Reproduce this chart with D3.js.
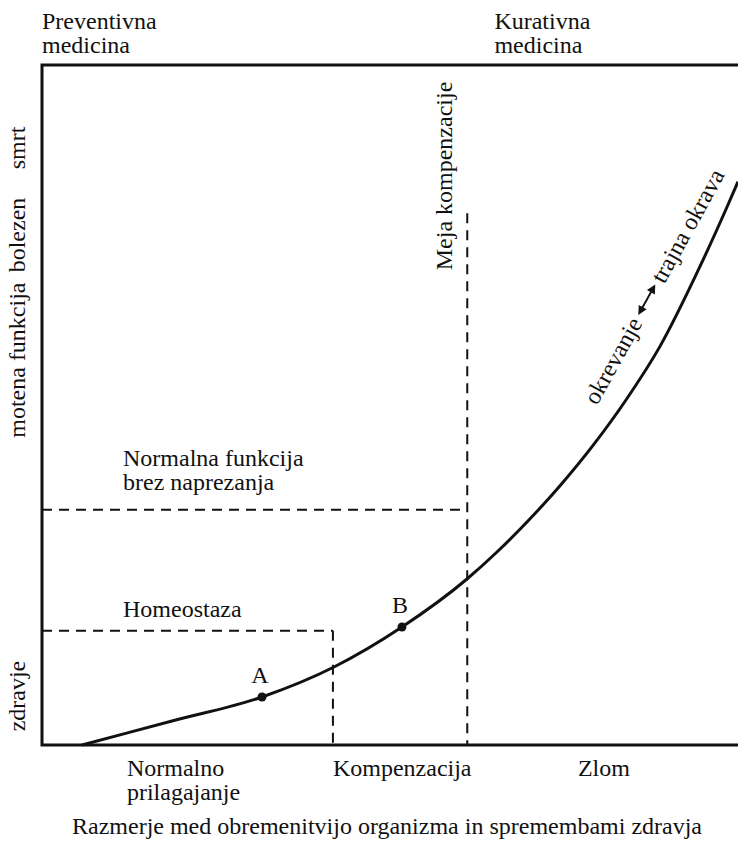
<!DOCTYPE html>
<html><head><meta charset="utf-8">
<script src="https://cdn.jsdelivr.net/npm/d3@7"></script>
<style>
html,body{margin:0;padding:0;background:#fff;}
text{font-family:"Liberation Serif","Times New Roman",serif;fill:#111;}
</style></head>
<body><svg id="c" width="738" height="841"></svg>
<script>
// ---- data (x = obremenitev 0..100, y = zdravje/stanje 0..100) ----
const curveX = [5.75, 18.68, 31.61, 41.95, 51.72, 61.06, 65.37, 69.68, 74.43, 79.17, 84.05, 88.79, 94.54, 98.42, 100];
const curveY = [0, 3.53, 7.06, 11.47, 17.35, 24.41, 28.38, 32.79, 38.13, 44.06, 50.96, 58.62, 70.38, 79.12, 82.84];
const pointNames = ["A", "B"];
const pointX = [31.61, 51.72];
const pointY = [7.06, 17.35];
const levelNames = ["Homeostaza", "Normalna funkcija|brez naprezanja"];
const levelY = [16.8, 34.6];
const levelXEnd = [41.8, 61.1];
const boundaryName = "Meja kompenzacije";
const boundaryX = 61.1;
const boundaryTop = 78.2;
const yTickLabels = ["zdravje", "motena funkcija", "bolezen", "smrt"];
const yTickPos = [7.2, 56.6, 75, 87.8];
const zoneLabels = ["Normalno|prilagajanje", "Kompenzacija", "Zlom"];
const zoneStart = [12.2, 41.8, 77.0];
const topLabels = ["Preventivna|medicina", "Kurativna|medicina"];
const topLabelX = [0, 65.0];
const curveNote = ["okrevanje", "trajna okrava"];
const title = "Razmerje med obremenitvijo organizma in spremembami zdravja";

// ---- layout ----
const svg = d3.select("#c");
const x = d3.scaleLinear().domain([0, 100]).range([42, 738]);
const y = d3.scaleLinear().domain([0, 100]).range([745, 65]);
const FS = 24;

// frame
const axisG = svg.append("g").attr("stroke", "#111").attr("stroke-width", 3).attr("fill", "none");
axisG.append("path").attr("d", d3.line()([[x(100), y(100)], [x(0), y(100)], [x(0), y(0)], [x(100), y(0)]]))
  .attr("stroke-linejoin", "miter");

// dashed guides
const dg = svg.append("g").attr("stroke", "#111").attr("stroke-width", 2).attr("stroke-dasharray", "10,7").attr("fill", "none");
levelY.forEach((v, i) => {
  dg.append("line").attr("x1", x(0)).attr("x2", x(levelXEnd[i])).attr("y1", y(v)).attr("y2", y(v));
});
dg.append("line").attr("x1", x(levelXEnd[0])).attr("x2", x(levelXEnd[0])).attr("y1", y(levelY[0])).attr("y2", y(0));
dg.append("line").attr("x1", x(boundaryX)).attr("x2", x(boundaryX)).attr("y1", y(boundaryTop)).attr("y2", y(0));

// curve
const line = d3.line().x(d => x(d[0])).y(d => y(d[1])).curve(d3.curveMonotoneX);
svg.append("path").datum(curveX.map((v, i) => [v, curveY[i]]))
  .attr("d", line).attr("fill", "none").attr("stroke", "#111").attr("stroke-width", 3);

// points A, B
svg.selectAll("circle.pt").data(pointNames).join("circle").attr("class", "pt")
  .attr("cx", (d, i) => x(pointX[i])).attr("cy", (d, i) => y(pointY[i])).attr("r", 4.5).attr("fill", "#111");
svg.selectAll("text.pt").data(pointNames).join("text").attr("class", "pt")
  .attr("x", (d, i) => x(pointX[i]) - 2).attr("y", (d, i) => y(pointY[i]) - 14)
  .attr("text-anchor", "middle").attr("font-size", FS).text(d => d);

// multi-line helper
function multi(g, str, x0, y0, lh, anchor) {
  const t = g.append("text").attr("font-size", FS).attr("text-anchor", anchor || "start");
  str.split("|").forEach((s, i) => t.append("tspan").attr("x", x0).attr("y", y0 + i * lh).text(s));
  return t;
}

// level labels
multi(svg, levelNames[0], 123, y(levelY[0]) - 14, 24);
multi(svg, levelNames[1], 123, y(levelY[1]) - 44, 24);

// boundary label (rotated)
svg.append("text").attr("font-size", FS).attr("text-anchor", "middle")
  .attr("transform", `translate(${x(boundaryX) - 15},176) rotate(-90)`)
  .text(boundaryName);

// y tick labels (rotated)
yTickLabels.forEach((s, i) => {
  svg.append("text").attr("font-size", FS).attr("text-anchor", "middle")
    .attr("transform", `translate(25,${y(yTickPos[i])}) rotate(-90)`).text(s);
});

// zone labels below axis
zoneLabels.forEach((s, i) => multi(svg, s, x(zoneStart[i]), 776, 24));

// top labels
topLabels.forEach((s, i) => multi(svg, s, x(topLabelX[i]), 29, 24));

// note along curve
const ng = svg.append("g").attr("transform", "translate(597,406) rotate(-61)");
const t1 = ng.append("text").attr("font-size", FS).attr("x", 0).attr("y", 0).text(curveNote[0]);
const w1 = t1.node().getComputedTextLength();
const ax0 = w1 + 5, ax1 = w1 + 40;
ng.append("line").attr("x1", ax0 + 4).attr("x2", ax1 - 4).attr("y1", -8).attr("y2", -8)
  .attr("stroke", "#111").attr("stroke-width", 2);
ng.append("path").attr("d", `M${ax0},-8 L${ax0 + 9},-12.5 L${ax0 + 9},-3.5 Z`).attr("fill", "#111");
ng.append("path").attr("d", `M${ax1},-8 L${ax1 - 9},-12.5 L${ax1 - 9},-3.5 Z`).attr("fill", "#111");
ng.append("text").attr("font-size", FS).attr("x", ax1 + 4).attr("y", 0).text(curveNote[1]);

// title
svg.append("text").attr("font-size", FS).attr("text-anchor", "middle").attr("x", 387).attr("y", 834).text(title);
</script></body></html>
